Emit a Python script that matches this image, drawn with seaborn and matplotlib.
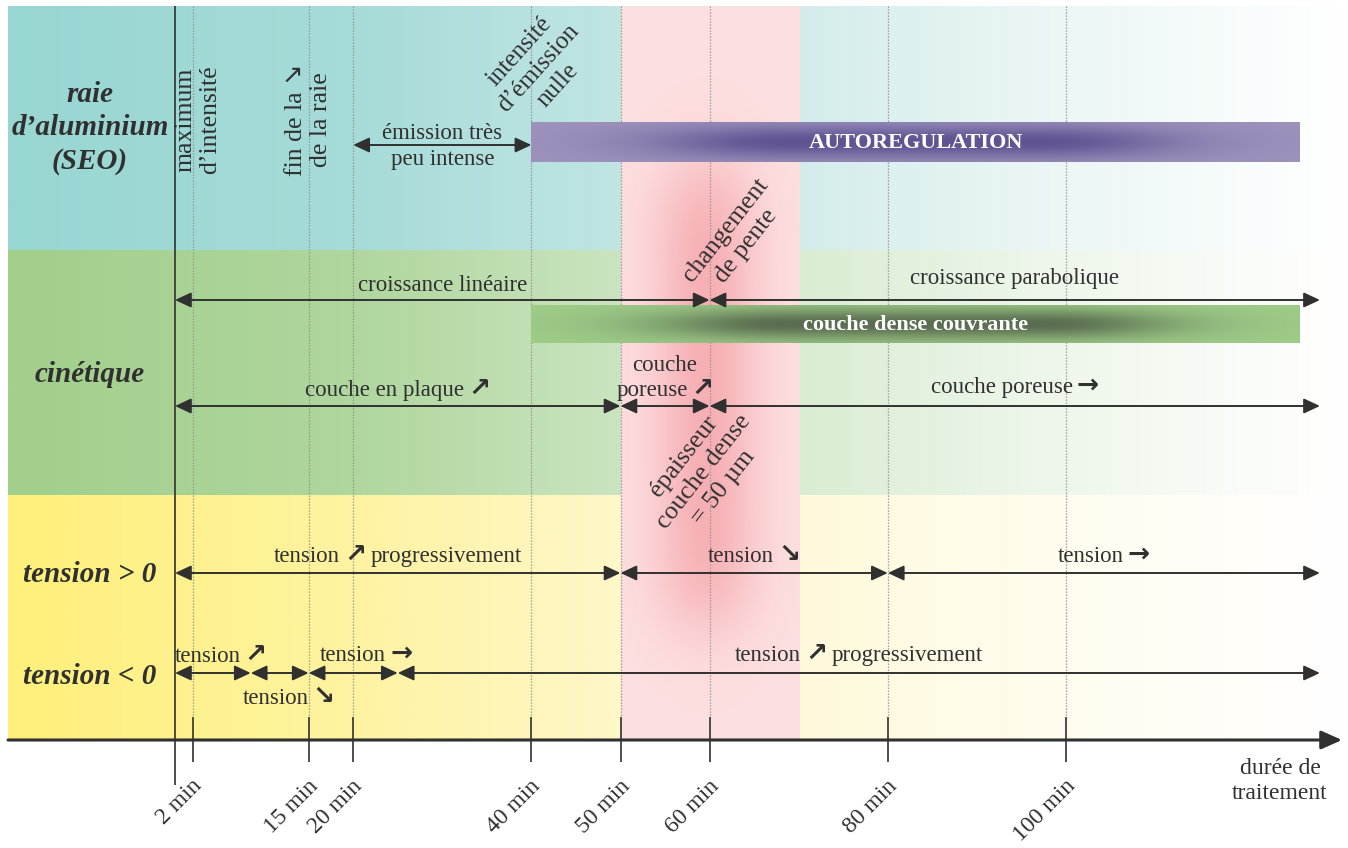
import numpy as np
import matplotlib
matplotlib.use("Agg")
import matplotlib.pyplot as plt
from matplotlib.colors import to_rgb
from matplotlib.offsetbox import TextArea, HPacker, VPacker, AnnotationBbox
import seaborn as sns

# --- données -------------------------------------------------------------
# graduations de l'axe du temps (minutes)
tick_minutes = [2, 15, 20, 40, 50, 60, 80, 100]
tick_labels = ["2 min", "15 min", "20 min", "40 min", "50 min", "60 min", "80 min", "100 min"]

row_labels = ["raie\nd\u2019aluminium\n(SEO)", "cinétique", "tension > 0", "tension < 0"]

# segments (début, fin) en minutes
seo_segments = [(20, 40)]
croissance_segments = [(0, 60), (60, 128.5)]
croissance_labels = ["croissance linéaire", "croissance parabolique"]
couche_segments = [(0, 50), (50, 60), (60, 128.5)]
couche_labels = ["couche en plaque \u2197", "couche\nporeuse \u2197", "couche poreuse \u2192"]
tension_pos_segments = [(0, 50), (50, 80), (80, 128.5)]
tension_pos_labels = ["tension \u2197 progressivement", "tension \u2198", "tension \u2192"]
tension_neg_segments = [(0, 8.5), (8.5, 15), (15, 25), (25, 128.5)]
tension_neg_labels = ["tension \u2197", "tension \u2198", "tension \u2192", "tension \u2197 progressivement"]

# zones
autoreg_span = (40, 126.3)
couche_dense_span = (40, 126.3)
zone_critique = (50, 70)

# notes sur les évènements
event_times = [2, 15, 40, 60, 60]
event_texts = ["maximum\nd\u2019intensité", "fin de la \u2198\nde la raie",
               "intensité\nd\u2019émission\nnulle", "changement\nde pente",
               "épaisseur\ncouche dense\n= 50 µm"]

# --- mise en page --------------------------------------------------------
X0, PX = 175.0, 8.91          # pixel du temps 0, pixels par minute
W, H = 1348, 848
INK = "#303030"
FS = 16.5
ARROW_CHARS = "\u2197\u2198\u2192"


def px2min(px):
    return (px - X0) / PX


sns.set_theme(style="white")
plt.rcParams["font.family"] = ["Liberation Serif", "DejaVu Sans"]
plt.rcParams["text.color"] = INK

fig = plt.figure(figsize=(W / 100, H / 100), dpi=100)
ax = fig.add_axes([0, 0, 1, 1])
ax.axis("off")

# fonds des trois lignes (dégradés horizontaux)
row_bounds = [(6, 250), (250, 495), (495, 740)]
row_palettes = [
    ["#98d6d2", "#a5dbd8", "#c6e7e5", "#e8f5f4", "#ffffff"],
    ["#a2cf8c", "#afd69d", "#cfe7c6", "#ebf5e7", "#ffffff"],
    ["#fef07a", "#fef3a0", "#fef8d0", "#fffcec", "#ffffff"],
]
ramp = np.linspace(0, 1, 512)[None, :]
for (y0, y1), pal in zip(row_bounds, row_palettes):
    cmap = sns.blend_palette(pal, as_cmap=True)
    ax.imshow(ramp, cmap=cmap, extent=(px2min(8), px2min(1340), y1, y0),
              aspect="auto", interpolation="bilinear", zorder=0)

# zone critique rose
xs = np.linspace(*zone_critique, 160)
ys = np.linspace(6, 740, 300)
hx = np.exp(-0.5 * ((xs - 59.5) / 4.2) ** 2)
vy = 1 / (1 + np.exp(-(ys - 170) / 25)) / (1 + np.exp(-(620 - ys) / 25))
t = 0.85 * vy[:, None] * hx[None, :]
base, dark = np.array(to_rgb("#fde0e1")), np.array(to_rgb("#f5a7ac"))
ax.imshow(base + (dark - base) * t[..., None],
          extent=(zone_critique[0], zone_critique[1], 740, 6),
          aspect="auto", interpolation="bilinear", zorder=1)

# repères verticaux
ax.vlines(tick_minutes, 6, 717, colors="#8c8c8c", linestyles=(0, (1, 1.4)), lw=0.9, zorder=2)
ax.vlines(tick_minutes, 717, 762, colors=INK, lw=1.2, zorder=6)
ax.vlines([0], 6, 785, colors=INK, lw=1.2, zorder=6)


def lens_band(span, yc, half_h, edge, dark_c, label):
    bx = np.linspace(span[0], span[1], 500)
    by = np.linspace(yc - half_h, yc + half_h, 80)
    mid = (span[0] + span[1]) / 2
    d = np.clip(np.abs(bx - mid) - 14, 0, None)
    fx = np.exp(-0.5 * (d / 11) ** 2)
    fy = np.exp(-((by - yc) / (0.8 * half_h)) ** 2)
    k = fy[:, None] * fx[None, :]
    e, dk = np.array(to_rgb(edge)), np.array(to_rgb(dark_c))
    ax.imshow(e + (dk - e) * k[..., None], extent=(span[0], span[1], yc + half_h, yc - half_h),
              aspect="auto", interpolation="bilinear", zorder=3)
    ax.text(mid, yc + 1, label, color="white", fontsize=16, fontweight="bold",
            ha="center", va="center", zorder=7)


lens_band(autoreg_span, 142, 20, "#9c92bc", "#5f5392", "AUTOREGULATION")
lens_band(couche_dense_span, 324, 19, "#9ecc88", "#5a6c50", "couche dense couvrante")

# flèches doubles
ARROW = dict(arrowstyle="<|-|>,head_length=0.75,head_width=0.35", color=INK,
             lw=1.4, shrinkA=0, shrinkB=0, mutation_scale=13)
TXT = dict(fontsize=FS, color=INK, family=["Liberation Serif"])
ARR = dict(fontsize=19, color=INK, family=["DejaVu Sans"], fontweight="bold")


def arrows(segments, y):
    for a, b in segments:
        ax.annotate("", xy=(b, y), xytext=(a, y), arrowprops=ARROW, zorder=6)


def rich_line(s):
    parts, buf = [], ""
    for ch in s:
        if ch in ARROW_CHARS:
            if buf.strip():
                parts.append(TextArea(buf.strip(), textprops=TXT))
            parts.append(TextArea(ch, textprops=ARR))
            buf = ""
        else:
            buf += ch
    if buf.strip():
        parts.append(TextArea(buf.strip(), textprops=TXT))
    return HPacker(children=parts, align="baseline", pad=0, sep=3)


def labels(segments, texts, y, dys, dxs=None):
    dxs = dxs or [0] * len(texts)
    for (a, b), txt, dy, dx in zip(segments, texts, dys, dxs):
        lines = [rich_line(s) for s in txt.split("\n")]
        box = lines[0] if len(lines) == 1 else VPacker(children=lines, align="center", pad=0, sep=0)
        ab = AnnotationBbox(box, ((a + b) / 2 + dx / PX, y + dy + 6), xycoords="data",
                            frameon=False, box_alignment=(0.5, 0), pad=0, zorder=7)
        ax.add_artist(ab)


arrows(seo_segments, 145)
ax.text(30, 139, "émission très", fontsize=FS, ha="center", va="baseline", zorder=7)
ax.text(30, 165, "peu intense", fontsize=FS, ha="center", va="baseline", zorder=7)

arrows(croissance_segments, 300)
labels(croissance_segments, croissance_labels, 300, [-10, -17])

arrows(couche_segments, 406)
labels(couche_segments, couche_labels, 406, [-10, -10, -13])

arrows(tension_pos_segments, 573)
labels(tension_pos_segments, tension_pos_labels, 573, [-11, -11, -11])

arrows(tension_neg_segments, 673)
labels(tension_neg_segments, tension_neg_labels, 673, [-11, 31, -12, -12], [8, 9, 13, 0])

# étiquettes des lignes
for lab, yc in zip(row_labels, [128, 375, 575, 677]):
    ax.text(px2min(90), yc, lab, fontsize=21, fontweight="bold", fontstyle="italic",
            ha="center", va="center", linespacing=1.3, zorder=7)

# notes sur les évènements
event_layout = [(5, 120, 90, 18.5), (0, 120, 90, 18.5), (7, 68, 48, 18),
                (26, 238, 52, 18.5), (-6, 472, 52, 18.5)]
for tm, txt, (dx, yc, rot, fs) in zip(event_times, event_texts, event_layout):
    ax.text(tm + dx / PX, yc, txt, fontsize=fs, rotation=rot, rotation_mode="anchor",
            ha="center", va="center", multialignment="center", linespacing=1.2, zorder=7)

# axe du temps
ax.annotate("", xy=(px2min(1342), 740), xytext=(px2min(8), 740),
            arrowprops=dict(arrowstyle="-|>,head_length=0.9,head_width=0.4", color=INK,
                            lw=2.2, shrinkA=0, shrinkB=0, mutation_scale=14), zorder=6)
for tm, lab in zip(tick_minutes, tick_labels):
    ax.annotate(lab, xy=(tm, 740), xytext=(6, -43), textcoords="offset pixels",
                fontsize=17, rotation=45, rotation_mode="anchor", ha="right", va="center")
ax.text(px2min(1280), 781, "durée de\ntraitement", fontsize=17, ha="center",
        va="center", linespacing=1.3)

ax.set_xlim(px2min(0), px2min(W))
ax.set_ylim(H, 0)
fig.savefig("out.png", dpi=100)
